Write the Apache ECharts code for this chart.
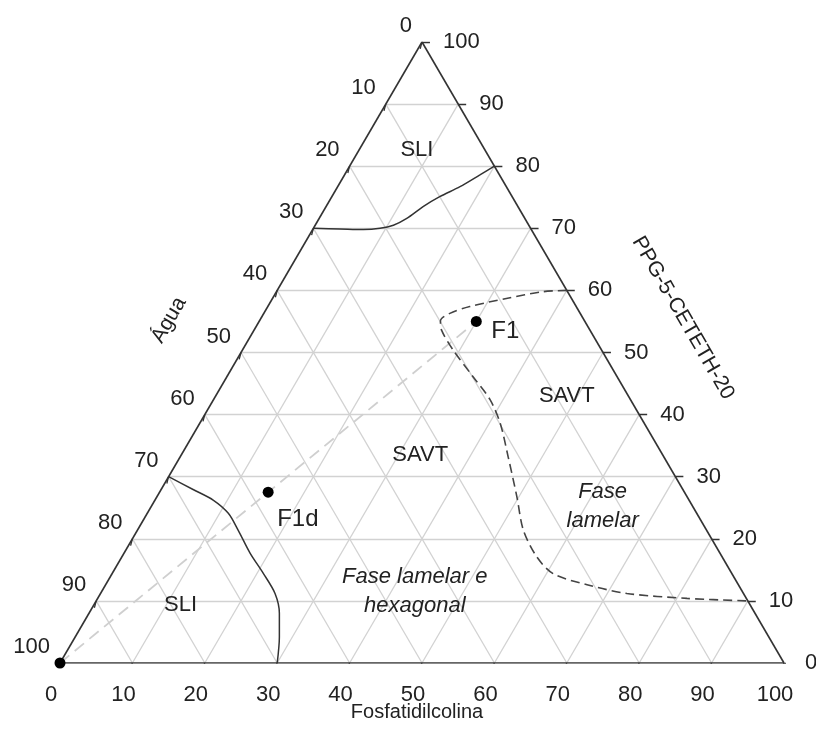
<!DOCTYPE html>
<html><head><meta charset="utf-8">
<script src="https://cdn.jsdelivr.net/npm/echarts/dist/echarts.min.js"></script>
<style>html,body{margin:0;padding:0;background:#fff}#c{width:816px;height:742px}</style>
</head><body><div id="c"></div>
<script>
// ---- data (ternary: F = Fosfatidilcolina %, Q = PPG-5-CETETH-20 %, Água = 100 - F - Q) ----
const fosfatidilcolinaTicks = [0,10,20,30,40,50,60,70,80,90,100];
const ppgTicks = [0,10,20,30,40,50,60,70,80,90,100];
const aguaTicks = [0,10,20,30,40,50,60,70,80,90,100];
const gridSteps = [10,20,30,40,50,60,70,80,90];

// phase boundaries as [F, Q]
const sliTopBoundary = [[0,70],[3.7,69.9],[7,69.8],[9.2,70],[10.8,70.5],[12.1,71.6],[13.4,73.5],[14.9,75.1],[16.9,76.7],[18.7,78.6],[20,80]];
const sliBottomBoundary = [[0,30],[4.5,27.9],[8.1,26.2],[11.2,24.1],[13.9,21.4],[17.4,17.7],[20.9,14.4],[24.1,11.2],[26.3,8],[28.2,4.2],[30,0]];
const lamelarBoundary = [[40,60],[36.9,59.8],[32.3,58.7],[27.9,57.4],[25.7,56.3],[25,55.1],[25.9,53.6],[29.1,50.4],[34,46.1],[38.2,42.4],[41.5,38.6],[45.3,33.2],[49.7,26.8],[53.3,21.4],[57.3,17.1],[60.9,14.4],[66.5,12.6],[72.7,11.2],[81.4,10.4],[90,10]];
const dilutionLine = [[0,0],[30,55]];
const formulationNames = ['F1','F1d',''];
const formulationF = [30,15,0];
const formulationQ = [55,27.5,0];
const regionNames = ['SLI','SLI','SAVT','SAVT','Fase\nlamelar','Fase lamelar e\nhexagonal'];
const regionF = [8,12,33,48.5,62.3,43.2];
const regionQ = [82.6,9.3,33.5,43,25.3,11.6];
const regionItalic = [false,false,false,false,true,true];

// ---- helpers ----
const tern = (F,Q) => [F + Q/2, Q];
const FONT = '"Liberation Sans", Arial, sans-serif';
const TXT = '#222';

const gridLines = [];
gridSteps.forEach(v => {
  gridLines.push({coords:[tern(0,v), tern(100-v,v)]});        // constant Q
  gridLines.push({coords:[tern(v,0), tern(v,100-v)]});        // constant F
  gridLines.push({coords:[tern(100-v,0), tern(0,100-v)]});    // constant Água
});
const edges = [
  {coords:[tern(0,0), tern(100,0)]},
  {coords:[tern(100,0), tern(0,100)]},
  {coords:[tern(0,100), tern(0,0)]}
];
const ticks = [];
fosfatidilcolinaTicks.forEach(v => { const p = tern(v,0); ticks.push({coords:[p,[p[0]-0.5,p[1]-1.1]]}); });
ppgTicks.forEach(v => { const p = tern(100-v,v); ticks.push({coords:[p,[p[0]+1.1,p[1]]]}); });
aguaTicks.forEach(v => { const p = tern(0,100-v); ticks.push({coords:[p,[p[0]-0.25,p[1]-1.1]]}); });

const labelSeries = (vals, pointFn, lab) => ({
  type:'scatter', symbolSize:0, silent:true, z:5, itemStyle:{opacity:1},
  data: vals.map(v => ({value: pointFn(v), name: String(v)})),
  label: Object.assign({show:true, formatter:'{b}', position:'inside', fontSize:22, color:TXT, fontFamily:FONT}, lab)
});

const option = {
  animation:false,
  backgroundColor:'#fff',
  grid:{left:60, top:42, width:724, height:621},
  xAxis:{type:'value', min:0, max:100, show:false},
  yAxis:{type:'value', min:0, max:100, show:false},
  series:[
    {type:'lines', coordinateSystem:'cartesian2d', silent:true, z:1, data:gridLines,
     lineStyle:{color:'#d2d2d2', width:1.3, opacity:1}},
    {type:'line', silent:true, z:2, showSymbol:false, data:dilutionLine.map(p=>tern(p[0],p[1])),
     lineStyle:{color:'#cfcfcf', width:1.8, type:[12,7]}},
    {type:'lines', coordinateSystem:'cartesian2d', silent:true, z:3, data:edges,
     lineStyle:{color:'#333', width:1.6, opacity:1}},
    {type:'lines', coordinateSystem:'cartesian2d', silent:true, z:3, data:ticks,
     lineStyle:{color:'#333', width:1.3, opacity:1}},
    {type:'line', silent:true, z:4, showSymbol:false, smooth:0.3, data:sliTopBoundary.map(p=>tern(p[0],p[1])),
     lineStyle:{color:'#333', width:1.5}},
    {type:'line', silent:true, z:4, showSymbol:false, smooth:0.3, data:sliBottomBoundary.map(p=>tern(p[0],p[1])),
     lineStyle:{color:'#333', width:1.5}},
    {type:'line', silent:true, z:4, showSymbol:false, smooth:0.3, data:lamelarBoundary.map(p=>tern(p[0],p[1])),
     lineStyle:{color:'#444', width:1.6, type:[9,5]}},
    {type:'scatter', silent:true, z:6, symbolSize:11, itemStyle:{color:'#000', opacity:1},
     data: formulationNames.map((n,i)=>({value: tern(formulationF[i], formulationQ[i]), name:n,
       label:{offset: i===0 ? [15,10] : [9,27]}})),
     label:{show:true, formatter:'{b}', fontSize:24, color:TXT, fontFamily:FONT, position:'inside', align:'left', verticalAlign:'middle'}},
    labelSeries(fosfatidilcolinaTicks, v=>tern(v,0), {offset:[-9,32], align:'center', verticalAlign:'middle'}),
    labelSeries(ppgTicks, v=>tern(100-v,v), {offset:[21,0], align:'left', verticalAlign:'middle'}),
    labelSeries(aguaTicks, v=>tern(0,100-v), {offset:[-10,-16], align:'right', verticalAlign:'middle'}),
    {type:'scatter', symbolSize:0, silent:true, z:5, itemStyle:{opacity:1},
     data: regionNames.map((n,i)=>({value: tern(regionF[i], regionQ[i]), name:n,
       label:{fontStyle: regionItalic[i] ? 'italic' : 'normal'}})),
     label:{show:true, formatter:'{b}', position:'inside', fontSize:22, lineHeight:29, color:TXT, fontFamily:FONT, align:'center', verticalAlign:'middle'}}
  ],
  graphic:[
    {type:'text', x:417, y:712, style:{text:'Fosfatidilcolina', font:'20px '+FONT, fill:TXT, textAlign:'center', textVerticalAlign:'middle'}},
    {type:'text', x:169, y:320, rotation:Math.PI/3, style:{text:'Água', font:'21px '+FONT, fill:TXT, textAlign:'center', textVerticalAlign:'middle'}},
    {type:'text', x:683, y:318, rotation:-Math.PI/3, style:{text:'PPG-5-CETETH-20', font:'21px '+FONT, fill:TXT, textAlign:'center', textVerticalAlign:'middle'}}
  ]
};
const chart = echarts.init(document.getElementById('c'), null, {renderer:'canvas'});
chart.setOption(option);
</script></body></html>
